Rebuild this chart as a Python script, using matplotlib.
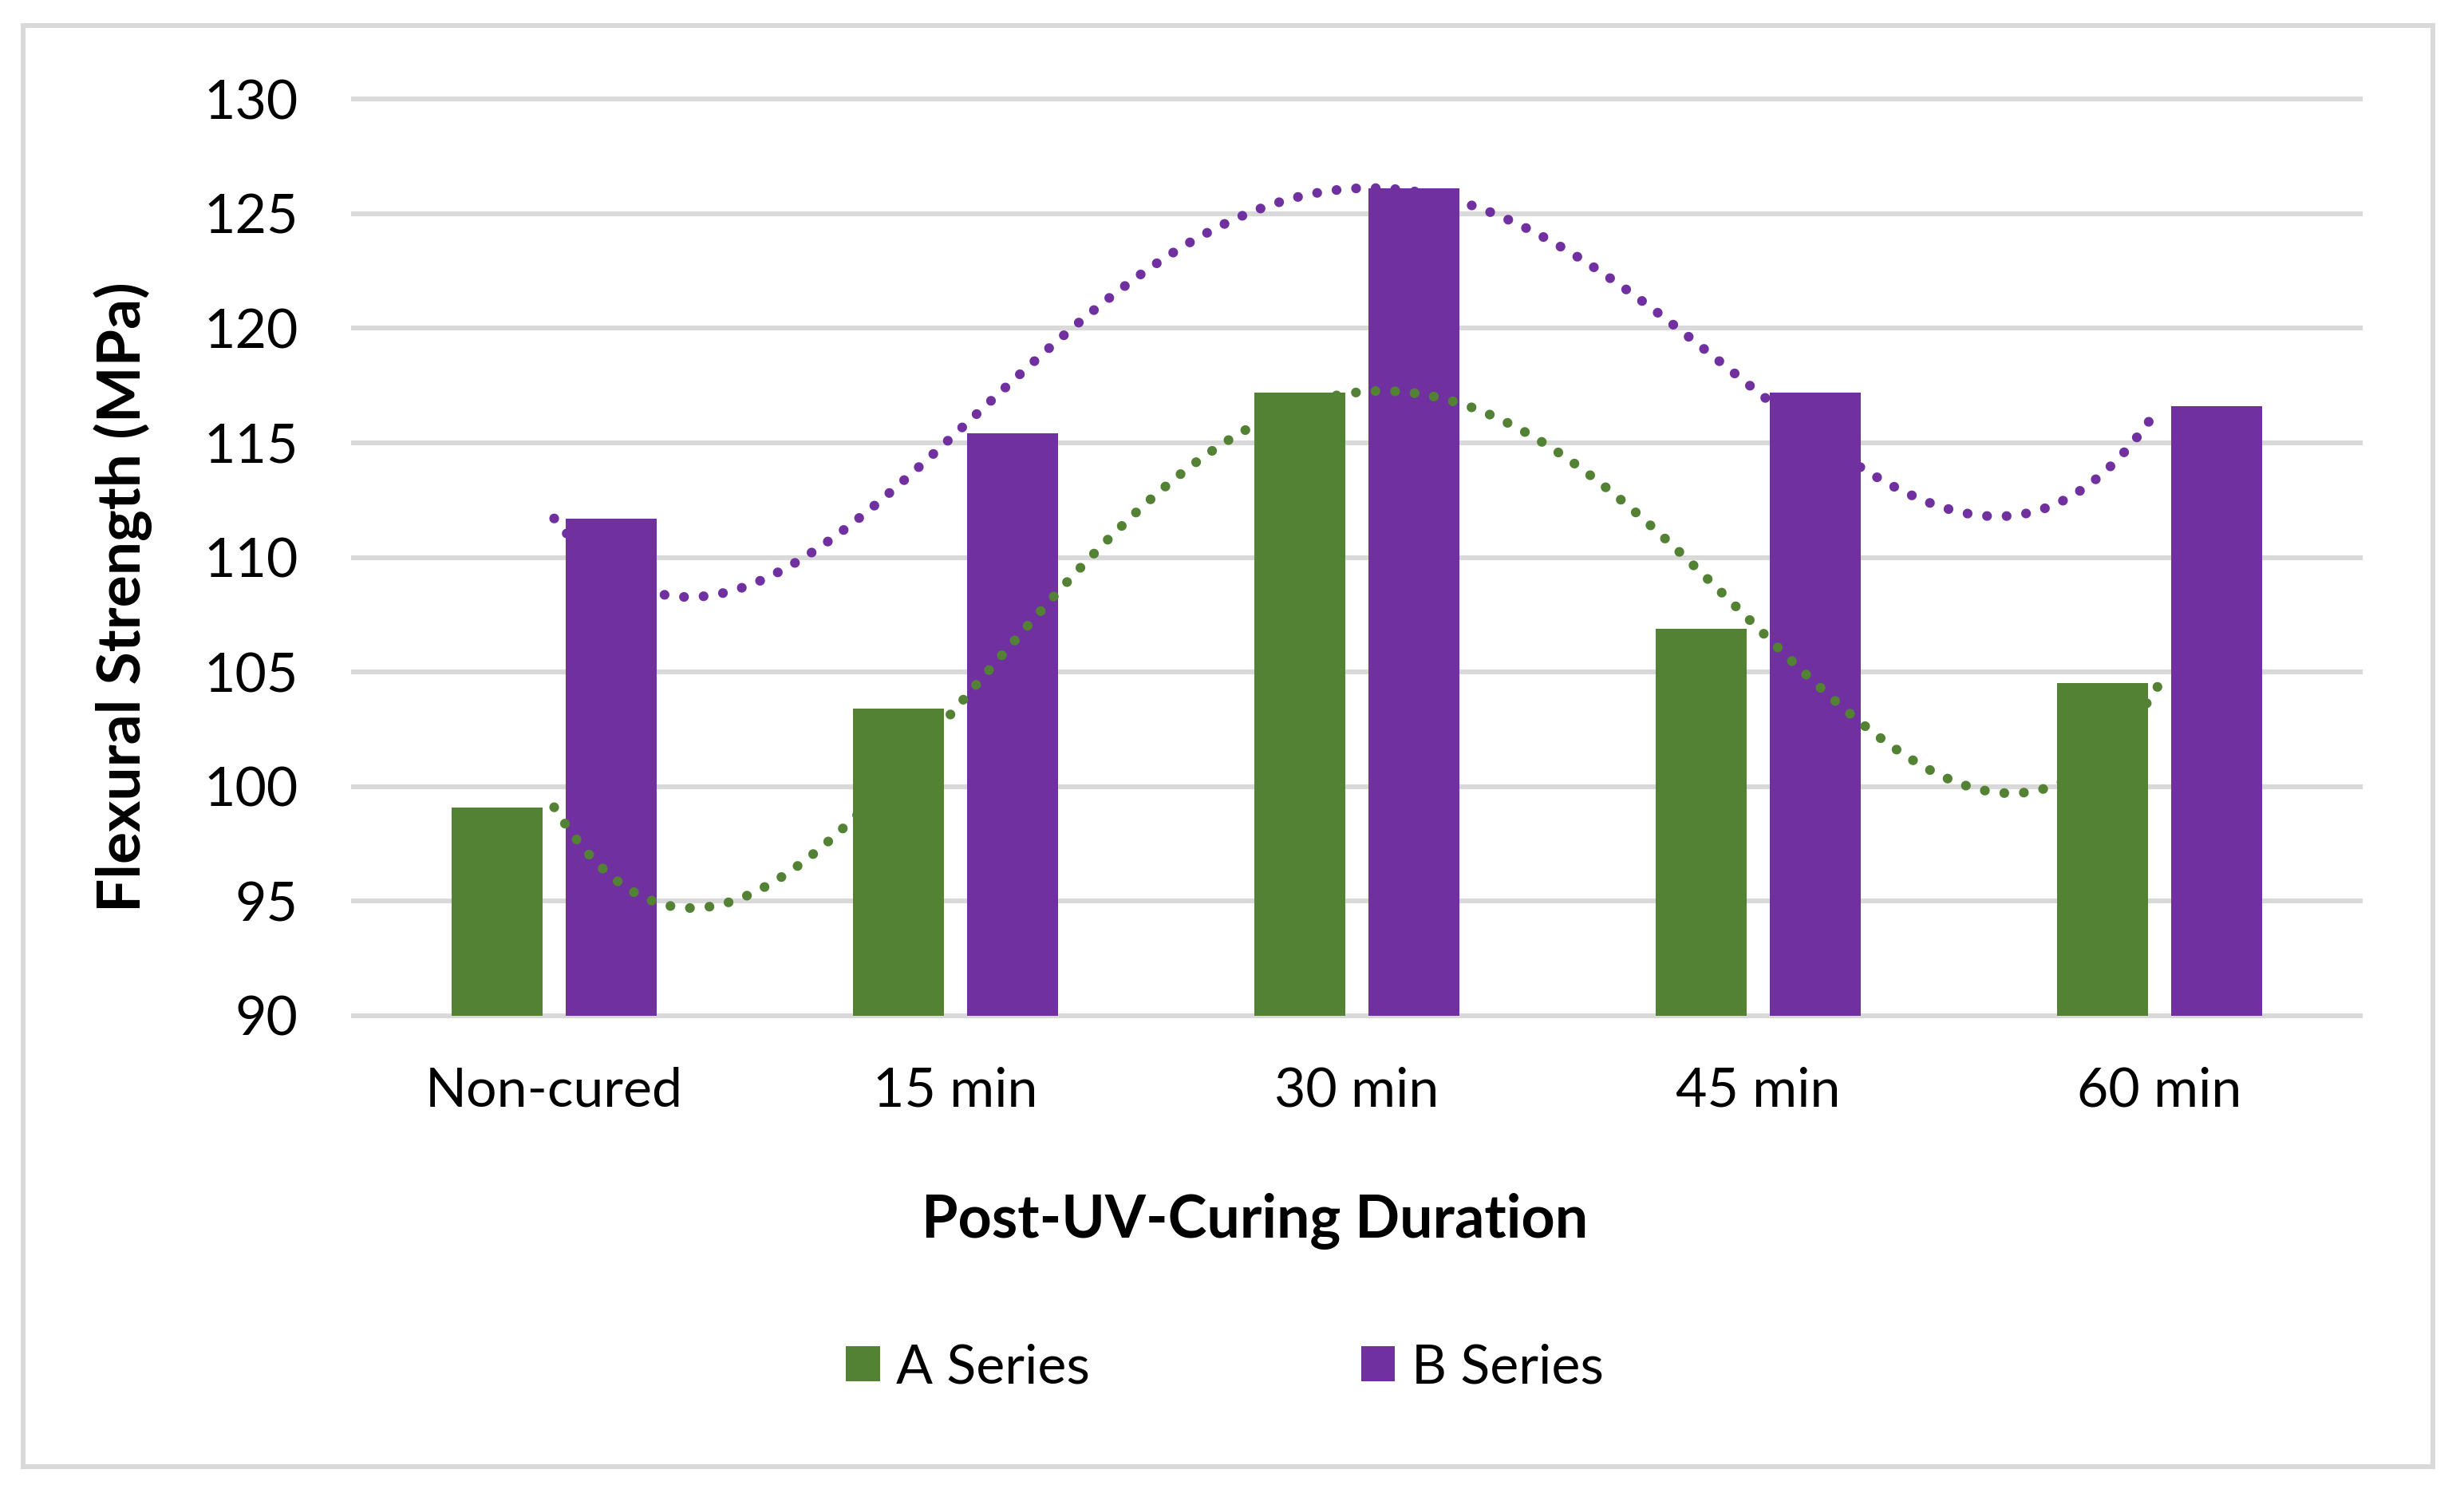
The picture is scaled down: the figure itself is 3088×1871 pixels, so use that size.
import numpy as np
import matplotlib
matplotlib.use("Agg")
import matplotlib.pyplot as plt
from matplotlib.patches import Rectangle, Patch

# Data
categories = ["Non-cured", "15 min", "30 min", "45 min", "60 min"]
a_series = [99.1, 103.4, 117.2, 106.9, 104.5]
b_series = [111.7, 115.4, 126.1, 117.2, 116.6]
y_ticks = [90, 95, 100, 105, 110, 115, 120, 125, 130]

GREEN = "#548235"
PURPLE = "#7030A0"
GRID = "#D9D9D9"

plt.rcParams["font.family"] = ["Lato", "DejaVu Sans"]

W, H, DPI = 3088, 1871, 200
fig = plt.figure(figsize=(W / DPI, H / DPI), dpi=DPI)

# plot area (pixel coords measured on reference)
left, right, top, bottom = 443, 2958, 124, 1273
ax = fig.add_axes([left / W, 1 - bottom / H, (right - left) / W, (bottom - top) / H])

x = np.arange(len(categories))
bw = 0.227
off = 0.142

ax.bar(x - off, a_series, width=bw, color=GREEN, zorder=2, label="A Series")
ax.bar(x + off, b_series, width=bw, color=PURPLE, zorder=2, label="B Series")

# 4th order polynomial trendlines (as Excel draws them)
xs = np.linspace(0, len(categories) - 1, 400)
for vals, col in [(a_series, GREEN), (b_series, PURPLE)]:
    coef = np.polyfit(x, vals, 4)
    ax.plot(xs, np.polyval(coef, xs), color=col, linewidth=4.4,
            linestyle=(0, (0.01, 2.0)), dash_capstyle="round", zorder=3)

ax.set_xlim(-0.5, len(categories) - 0.5)
ax.set_ylim(90, 130)
ax.set_yticks(y_ticks)
ax.set_xticks(x)
ax.set_xticklabels(categories)

ax.yaxis.grid(True, color=GRID, linewidth=2.2, zorder=0)
ax.set_axisbelow(True)
for gl in ax.get_ygridlines():
    gl.set_clip_on(False)
for s in ax.spines.values():
    s.set_visible(False)

ax.tick_params(axis="both", length=0, labelsize=24.5, colors="black")
ax.tick_params(axis="y", pad=25)
ax.tick_params(axis="x", pad=23)

fig.text(1573 / W, 1 - 1530 / H, "Post-UV-Curing Duration", ha="center", va="center",
         fontsize=26.5, fontweight="bold")
fig.text(154 / W, 1 - 748 / H, "Flexural Strength (MPa)", ha="center", va="center",
         rotation=90, fontsize=27, fontweight="bold")

handles = [Patch(facecolor=GREEN, label="A Series"), Patch(facecolor=PURPLE, label="B Series")]
fig.legend(handles=handles, loc="center", bbox_to_anchor=(1535 / W, 1 - 1714 / H), ncol=2,
           frameon=False, fontsize=24.5, handlelength=0.62, handleheight=0.62,
           handletextpad=0.3, columnspacing=5.0)

# chart-area border
fig.patches.append(Rectangle((29 / W, 1 - 1838 / H), (3049 - 29) / W, (1838 - 32) / H,
                             transform=fig.transFigure, fill=False, edgecolor=GRID,
                             linewidth=2.2, zorder=0))

fig.savefig("out.png", dpi=DPI, facecolor="white")
